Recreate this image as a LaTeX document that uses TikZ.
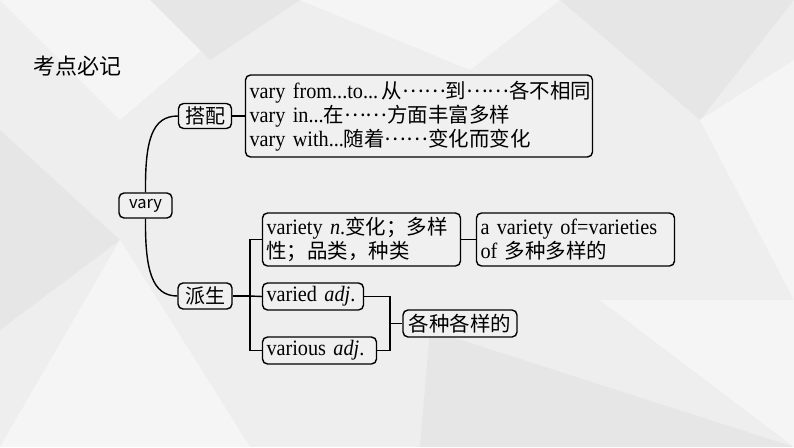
\documentclass[tikz,border=0pt]{standalone}
\usepackage{fontspec}
\setmainfont{Liberation Serif}[FakeStretch=0.92]
\newfontfamily\cjk{Noto Sans CJK SC}
\newfontfamily\cjkm{Noto Sans CJK SC}[Scale=0.93]
\newcommand{\myel}{\raisebox{0.3em}{……}}
\definecolor{bgbase}{HTML}{EEEEEE}
\definecolor{bglight}{HTML}{F5F5F5}
\definecolor{bgdark}{HTML}{E6E6E6}
\definecolor{boxfill}{HTML}{F0F0F0}
\tikzset{
  mbox/.style={draw=black, line width=1.4pt, rounded corners=5pt, fill=boxfill,
    inner xsep=4pt, inner ysep=2pt, font=\fontsize{22}{24}\selectfont},
  mlbox/.style={mbox, align=left},
  conn/.style={draw=black, line width=1.4pt},
}
\begin{document}
\begin{tikzpicture}[x=1pt,y=-1pt]
\useasboundingbox (0,0) rectangle (794,447);
% background
\fill[bgbase] (0,0) rectangle (794,447);
\fill[bglight] (0,0) -- (260,0) -- (120,120) -- cycle;
\fill[bglight] (300,0) -- (560,0) -- (470,70) -- cycle;
\fill[bgdark] (0,130) -- (120,240) -- (0,330) -- cycle;
\fill[bglight] (120,240) -- (250,447) -- (0,447) -- cycle;
\fill[bgdark] (560,0) -- (794,0) -- (700,120) -- cycle;
\fill[bglight] (700,120) -- (794,60) -- (794,300) -- cycle;
\fill[bgdark] (430,330) -- (794,447) -- (420,447) -- cycle;
\fill[bglight] (600,300) -- (794,300) -- (794,447) -- cycle;
\fill[bgdark] (150,0) -- (300,0) -- (210,60) -- cycle;
% title
\node[font=\cjk\fontsize{22}{26}\selectfont, anchor=west, inner sep=0pt] (title) at (33,66) {考点必记};
% nodes
\node[mbox, minimum width=53pt, minimum height=25pt, font=\cjk\fontsize{16.5}{20}\selectfont] (vary) at (145.5,205.5) {vary};
\node[mbox, minimum width=53pt, minimum height=25pt, font=\cjk\fontsize{20}{22}\selectfont] (dapei) at (205,116) {搭配};
\node[mbox, minimum width=54pt, minimum height=26pt, font=\cjk\fontsize{20}{22}\selectfont] (paisheng) at (205,296) {派生};
\node[mlbox, text width=339pt, minimum height=82pt] (coll) at (419,116)
  {\mbox{vary from...to...\,{\cjkm 从\myel 到\myel 各不相同}}\\
   \mbox{vary in...{\cjkm 在\myel 方面丰富多样}}\\
   \mbox{vary with...{\cjkm 随着\myel 变化而变化}}};
\node[mlbox, text width=190pt, minimum height=53pt] (variety) at (361.5,239.5)
  {\mbox{variety \textit{n}.{\cjkm 变化；多样}}\\\mbox{\cjkm 性；品类，种类}};
\node[mlbox, text width=190pt, minimum height=53pt] (avariety) at (575.5,239.5)
  {\mbox{a variety of=varieties}\\\mbox{of {\cjkm 多种多样的}}};
\node[mlbox, text width=93pt, minimum height=27pt] (varied) at (313,296.5)
  {\mbox{varied \textit{adj}.}};
\node[mlbox, text width=106pt, minimum height=27pt] (various) at (319.5,350.5)
  {\mbox{various \textit{adj}.}};
\node[mbox, minimum width=114pt, minimum height=27pt, font=\cjkm\fontsize{22}{24}\selectfont] (gezhong) at (460,323.5)
  {各种各样的};
% connectors
\draw[conn] (vary.north) .. controls (145,140) and (152,116) .. (dapei.west);
\draw[conn] (vary.south) .. controls (145,270) and (152,296) .. (paisheng.west);
\draw[conn] (dapei.east) -- (coll.west);
\coordinate (busL) at (250,296);
\draw[conn] (paisheng.east) -- (busL);
\draw[conn] (variety.west) -| (busL) |- (various.west);
\draw[conn] (busL) -- (varied.west);
\draw[conn] (variety.east) -- (avariety.west);
\coordinate (busR) at (390,323.5);
\draw[conn] (varied.east) -| (busR) |- (various.east);
\draw[conn] (busR) -- (gezhong.west);
\end{tikzpicture}
\end{document}
